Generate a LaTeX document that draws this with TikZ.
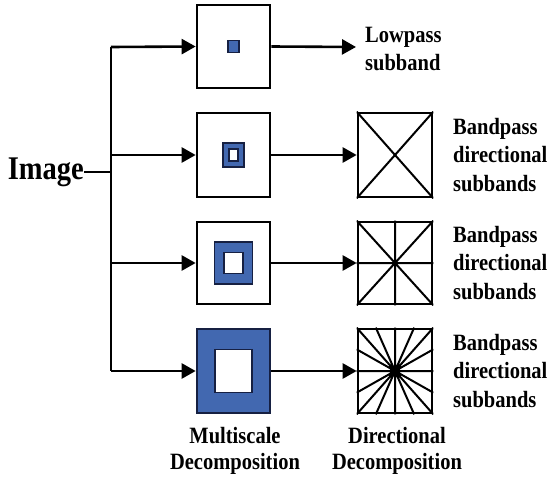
\documentclass[tikz,border=0pt]{standalone}
\usepackage{fontspec}
\usepackage{graphicx}
\setmainfont{Liberation Serif}
\usetikzlibrary{arrows.meta,calc}
\definecolor{fillblue}{RGB}{66,104,176}
\definecolor{navy}{RGB}{22,32,66}
\newcommand\vst[2]{\scalebox{1}[1.14]{\begin{tabular}{@{}#1@{}}#2\end{tabular}}}
\tikzset{
  panel/.style={draw=black,line width=2.7pt,minimum width=73pt,minimum height=83pt,inner sep=0pt,fill=white},
  conn/.style={line width=2.6pt},
  arr/.style={line width=2.6pt,-{Triangle[length=14pt,width=15pt]}},
  lbl/.style={font=\bfseries\fontsize{20.5}{25}\selectfont,inner sep=0pt},
  captext/.style={font=\bfseries\fontsize{20.5}{22.8}\selectfont,inner sep=0pt},
  ring/.style={draw=navy,line width=1.8pt,fill=fillblue,inner sep=0pt},
  hole/.style={draw=navy,line width=1.8pt,fill=white,inner sep=0pt},
  ray/.style={line width=2pt}
}
\begin{document}
\begin{tikzpicture}[x=1pt,y=-1pt]
\useasboundingbox (0,0) rectangle (550,479);
% image label and spine
\node[font=\bfseries\fontsize{28.5}{32}\selectfont,inner sep=0pt,anchor=east] (img) at (84,172) {\scalebox{1}[1.16]{Image}};
\coordinate (s1) at (111,47);
\coordinate (s2) at (111,155);
\coordinate (s3) at (111,263);
\coordinate (s4) at (111,371);
\draw[conn] (s1) -- (s4);
\draw[conn] (img.east) -- (img.east -| s1);
% multiscale panels
\node[panel] (m1) at (233.5,46.5) {};
\node[panel,minimum height=84pt] (m2) at (233.5,155) {};
\node[panel,minimum height=82pt] (m3) at (233.5,263) {};
\node[panel,minimum height=84pt,fill=fillblue,draw=navy] (m4) at (233.5,371) {};
% inner squares
\node[ring,minimum width=11pt,minimum height=12pt] (q1) at (m1.center) {};
\node[ring,minimum width=21pt,minimum height=24pt] (q2) at (m2.center) {};
\node[hole,minimum width=9pt,minimum height=12pt] (h2) at (m2.center) {};
\node[ring,minimum width=38pt,minimum height=42pt] (q3) at (m3.center) {};
\node[hole,minimum width=19pt,minimum height=21pt] (h3) at (m3.center) {};
\node[hole,minimum width=37pt,minimum height=43pt] (h4) at (m4.center) {};
% arrows from spine
\draw[arr] (s1) -- (m1.west);
\draw[arr] (s2) -- (m2.west);
\draw[arr] (s3) -- (m3.west);
\draw[arr] (s4) -- (m4.west);
% directional panels
\node[panel,minimum width=74pt,minimum height=84pt] (d2) at (395,155) {};
\node[panel,minimum width=74pt,minimum height=82pt] (d3) at (395,263) {};
\node[panel,minimum width=74pt,minimum height=84pt] (d4) at (395,371) {};
% rays
\begin{scope}
\clip (d2.north west) rectangle (d2.south east);
\draw[ray] (d2.north west) -- (d2.south east) (d2.north east) -- (d2.south west);
\end{scope}
\begin{scope}
\clip (d3.north west) rectangle (d3.south east);
\draw[ray] (d3.north west) -- (d3.south east) (d3.north east) -- (d3.south west)
  (d3.north) -- (d3.south) (d3.west) -- (d3.east);
\fill (d3.center) circle (3pt);
\end{scope}
\begin{scope}
\clip (d4.north west) rectangle (d4.south east);
\draw[ray] (d4.north west) -- (d4.south east) (d4.north east) -- (d4.south west)
  (d4.north) -- (d4.south) (d4.west) -- (d4.east)
  ($(d4.north west)!0.25!(d4.north east)$) -- ($(d4.south west)!0.75!(d4.south east)$)
  ($(d4.north west)!0.75!(d4.north east)$) -- ($(d4.south west)!0.25!(d4.south east)$)
  ($(d4.north west)!0.25!(d4.south west)$) -- ($(d4.north east)!0.75!(d4.south east)$)
  ($(d4.north west)!0.75!(d4.south west)$) -- ($(d4.north east)!0.25!(d4.south east)$);
\fill (d4.center) circle (5.5pt);
\end{scope}
\node[panel,minimum width=74pt,minimum height=84pt,fill=none] at (d4.center) {};
\node[panel,minimum width=74pt,minimum height=82pt,fill=none] at (d3.center) {};
\node[panel,minimum width=74pt,minimum height=84pt,fill=none] at (d2.center) {};
% arrows to directional panels
\coordinate (lp) at (356,47);
\draw[arr] (m1.east) -- (lp);
\draw[arr] (m2.east) -- (d2.west);
\draw[arr] (m3.east) -- (d3.west);
\draw[arr] (m4.east) -- (d4.west);
% labels
\node[lbl,anchor=west] (t1) at (365,51) {\vst{l}{Lowpass\\subband}};
\node[lbl,anchor=west] (t2) at (453,157) {\vst{l}{Bandpass\\directional\\subbands}};
\node[lbl,anchor=west] (t3) at (453,265) {\vst{l}{Bandpass\\directional\\subbands}};
\node[lbl,anchor=west] (t4) at (453,373) {\vst{l}{Bandpass\\directional\\subbands}};
\node[captext] (c1) at (235,451) {\vst{c}{Multiscale\\Decomposition}};
\node[captext] (c2) at (397,451) {\vst{c}{Directional\\Decomposition}};
\end{tikzpicture}
\end{document}
